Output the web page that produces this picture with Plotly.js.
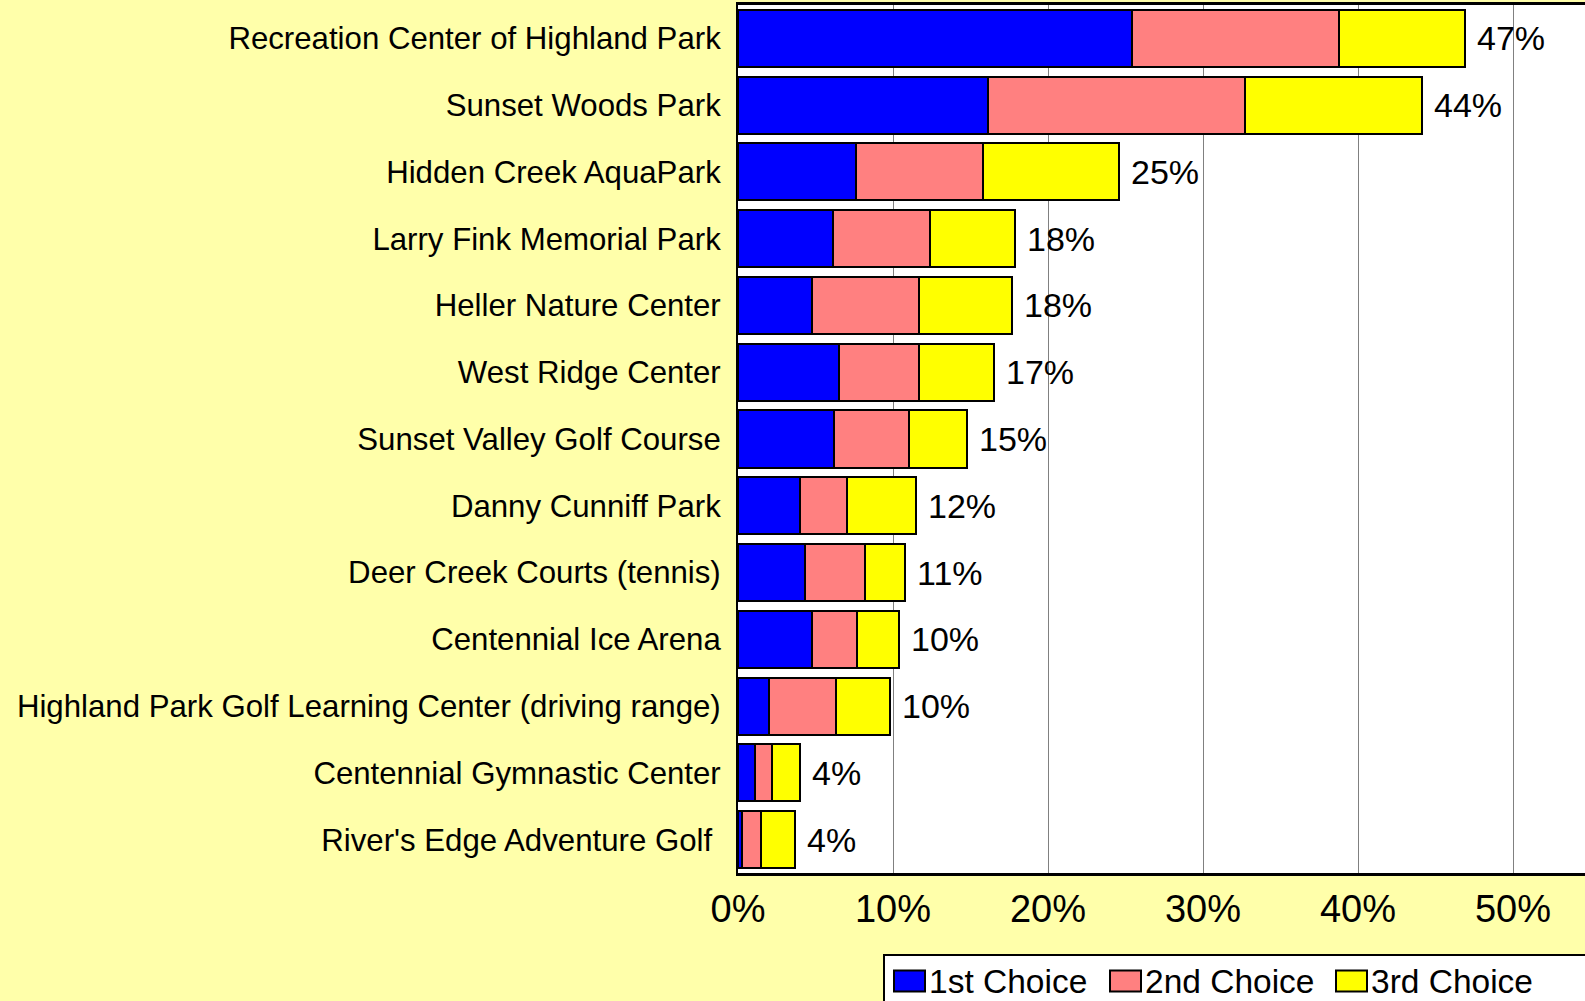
<!DOCTYPE html>
<html>
<head>
<meta charset="utf-8">
<script src="https://cdn.plot.ly/plotly-3.0.1.min.js"></script>
<style>
html, body { margin: 0; padding: 0; overflow: hidden; background: #FFFFAA; width: 1585px; height: 1001px; }
#chart { width: 1620px; height: 1030px; }
</style>
</head>
<body>
<div id="chart"></div>
<script>
const categories = [
  "Recreation Center of Highland Park",
  "Sunset Woods Park",
  "Hidden Creek AquaPark",
  "Larry Fink Memorial Park",
  "Heller Nature Center",
  "West Ridge Center",
  "Sunset Valley Golf Course",
  "Danny Cunniff Park",
  "Deer Creek Courts (tennis)",
  "Centennial Ice Arena",
  "Highland Park Golf Learning Center (driving range)",
  "Centennial Gymnastic Center",
  "River's Edge Adventure Golf"
];
// tick labels as shown (the last one carries a trailing space in the original)
const categoryLabels = categories.map((c, k) => k === categories.length - 1 ? c + "\u00a0" : c);
const firstChoice  = [0.254, 0.161, 0.076, 0.061, 0.048, 0.065, 0.062, 0.040, 0.043, 0.048, 0.020, 0.011, 0.0025];
const secondChoice = [0.134, 0.166, 0.082, 0.063, 0.069, 0.052, 0.048, 0.030, 0.039, 0.029, 0.043, 0.011, 0.0125];
const thirdChoice  = [0.081, 0.114, 0.088, 0.055, 0.060, 0.048, 0.038, 0.045, 0.026, 0.027, 0.035, 0.018, 0.022];
const totalLabels  = ["47%", "44%", "25%", "18%", "18%", "17%", "15%", "12%", "11%", "10%", "10%", "4%", "4%"];
const seriesNames  = ["1st Choice", "2nd Choice", "3rd Choice"];
const tickValues   = [0, 0.1, 0.2, 0.3, 0.4, 0.5];
const tickLabels   = ["0%", "10%", "20%", "30%", "40%", "50%"];

const colors = ["#0000FF", "#FF8080", "#FFFF00"];
const FONT = "Liberation Sans, Arial, sans-serif";

// layout geometry (pixels)
const W = 1620, H = 1030;
const M = { l: 738, r: 0, t: 5, b: 157 };
const PW = W - M.l - M.r, PH = H - M.t - M.b;
const px = x => (x - M.l) / PW;              // pixel x -> paper
const py = y => (H - M.b - y) / PH;          // pixel y -> paper

const series = [firstChoice, secondChoice, thirdChoice];
const traces = series.map((vals, i) => ({
  type: "bar",
  orientation: "h",
  name: seriesNames[i],
  y: categories,
  x: vals,
  marker: { color: colors[i], line: { color: "#000000", width: 2 } },
  hoverinfo: "skip",
  showlegend: false
}));

const totals = categories.map((c, k) => firstChoice[k] + secondChoice[k] + thirdChoice[k]);

const annotations = categories.map((c, k) => ({
  x: totals[k],
  y: c,
  xref: "x",
  yref: "y",
  text: totalLabels[k],
  showarrow: false,
  xanchor: "left",
  yanchor: "middle",
  xshift: 10,
  font: { family: FONT, size: 34, color: "#000000" }
}));

// custom legend (box + swatches + labels)
const legendBox = { left: 884, top: 955 };
const swatchX = [894, 1110, 1336];
const swatchW = 31, swatchTop = 970.5, swatchH = 21;
const shapes = [{
  type: "rect", xref: "paper", yref: "paper", layer: "above",
  x0: px(legendBox.left), x1: px(W + 20), y0: py(legendBox.top), y1: py(H + 20),
  fillcolor: "#FFFFFF", line: { color: "#000000", width: 2 }
}];
seriesNames.forEach((name, i) => {
  shapes.push({
    type: "rect", xref: "paper", yref: "paper", layer: "above",
    x0: px(swatchX[i]), x1: px(swatchX[i] + swatchW),
    y0: py(swatchTop), y1: py(swatchTop + swatchH),
    fillcolor: colors[i], line: { color: "#000000", width: 2 }
  });
  annotations.push({
    x: px(swatchX[i] + swatchW + 2), y: py(981),
    xref: "paper", yref: "paper",
    text: name, showarrow: false,
    xanchor: "left", yanchor: "middle",
    font: { family: FONT, size: 33.5, color: "#000000" }
  });
});

const layout = {
  width: W,
  height: H,
  margin: { l: M.l, r: M.r, t: M.t, b: M.b, pad: 0 },
  paper_bgcolor: "#FFFFAA",
  plot_bgcolor: "#FFFFFF",
  barmode: "stack",
  bargap: 0.146,
  font: { family: FONT, color: "#000000" },
  showlegend: false,
  xaxis: {
    range: [0, PW / 1550],
    tickvals: tickValues,
    ticktext: tickLabels,
    showgrid: true,
    gridcolor: "#808080",
    gridwidth: 1,
    zeroline: false,
    showline: true,
    linecolor: "#000000",
    linewidth: 3,
    mirror: true,
    ticks: "",
    ticklabelstandoff: 0,
    tickfont: { family: FONT, size: 38, color: "#000000" },
    fixedrange: true
  },
  yaxis: {
    type: "category",
    range: [categories.length - 0.5, -0.5],
    autorange: false,
    tickvals: categories,
    ticktext: categoryLabels,
    showgrid: false,
    zeroline: false,
    showline: true,
    linecolor: "#000000",
    linewidth: 2,
    ticks: "",
    ticklabelstandoff: 9,
    tickfont: { family: FONT, size: 31.2, color: "#000000" },
    fixedrange: true
  },
  annotations: annotations,
  shapes: shapes
};

Plotly.newPlot("chart", traces, layout, { displayModeBar: false, staticPlot: true });
</script>
</body>
</html>
